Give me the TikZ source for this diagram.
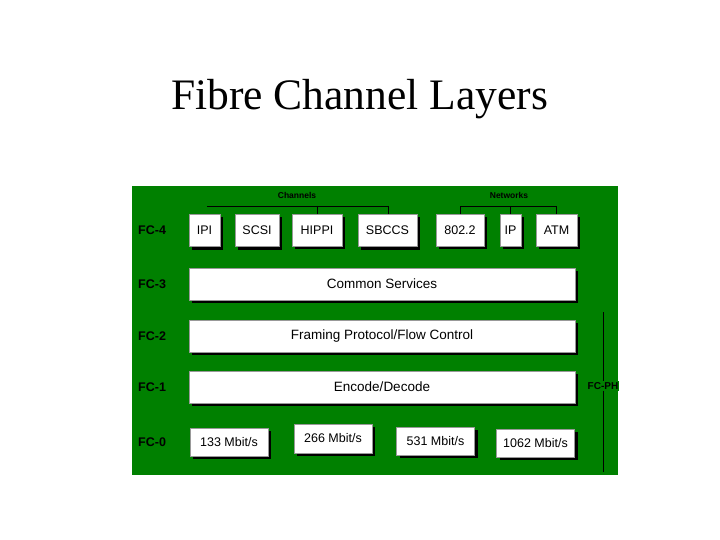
\documentclass[tikz,border=0pt]{standalone}
\usepackage{fontspec}
\setmainfont{Liberation Serif}
\setsansfont{Liberation Sans}
\usetikzlibrary{shadows}
\definecolor{fcgreen}{RGB}{0,128,0}
\tikzset{
  box/.style={draw=black!40, line width=0.3pt, fill=white, inner sep=0pt,
    font=\sffamily\fontsize{12.5}{14}\selectfont,
    drop shadow={opacity=1, fill=black, shadow xshift=3pt, shadow yshift=-3pt}},
  widebox/.style={box, font=\sffamily\fontsize{13.5}{15}\selectfont},
  lvl/.style={anchor=west, inner sep=0pt, font=\sffamily\bfseries\fontsize{12.5}{14}\selectfont},
  grp/.style={inner sep=0pt, font=\sffamily\bfseries\fontsize{8.5}{10}\selectfont},
  tree/.style={draw=black, line width=0.8pt}
}
\begin{document}
\begin{tikzpicture}[x=1pt,y=-1pt]
\useasboundingbox (0,0) rectangle (720,540);
\fill[white] (0,0) rectangle (720,540);
\node[anchor=base, inner sep=0pt, font=\fontsize{43.5}{50}\selectfont] (title) at (359.5,110) {Fibre Channel Layers};
\fill[fcgreen] (132,186) rectangle (618,475);

% level labels
\node[lvl] (l4) at (138,230) {FC-4};
\node[lvl] (l3) at (138,284) {FC-3};
\node[lvl] (l2) at (138,336) {FC-2};
\node[lvl] (l1) at (138,387) {FC-1};
\node[lvl] (l0) at (138,442) {FC-0};

% group labels
\node[grp] (chan) at (297,195) {Channels};
\node[grp] (net) at (509,195) {Networks};

% FC-4 boxes
\node[box, minimum width=31pt, minimum height=32pt] (ipi) at (204.5,230.5) {IPI};
\node[box, minimum width=44pt, minimum height=32pt] (scsi) at (257,230.5) {SCSI};
\node[box, minimum width=50pt, minimum height=32pt] (hippi) at (317,230) {HIPPI};
\node[box, minimum width=59pt, minimum height=32pt] (sbccs) at (387.5,230.5) {SBCCS};
\node[box, minimum width=48pt, minimum height=32pt] (ieee) at (460,230) {802.2};
\node[box, minimum width=21pt, minimum height=32pt] (ip) at (510.5,230) {IP};
\node[box, minimum width=41pt, minimum height=32pt] (atm) at (556.5,230) {ATM};

% grouping lines
\coordinate (cl) at (207,206);
\coordinate (cr) at (388,206);
\draw[tree] (cl) -- (cr);
\draw[tree] (hippi.north |- cl) -- (hippi.north);
\draw[tree] (cr) -- (sbccs.north -| cr);
\coordinate (nl) at (460,206);
\coordinate (nr) at (557,206);
\draw[tree] (ieee.north) -- (ieee.north |- nl) -- (atm.north |- nr) -- (atm.north);
\draw[tree] (ip.north |- nl) -- (ip.north);

% wide boxes
\node[widebox, minimum width=386pt, minimum height=32pt] (common) at (382,284) {Common Services};
\node[widebox, minimum width=386pt, minimum height=32pt] (framing) at (382,336) {Framing Protocol/Flow Control};
\node[widebox, minimum width=386pt, minimum height=32pt] (encode) at (382,387) {Encode/Decode};

% FC-0 boxes
\node[box, minimum width=78pt, minimum height=28pt] (r133) at (229,442) {133 Mbit/s};
\node[box, minimum width=78pt, minimum height=29pt] (r266) at (333,438.5) {266 Mbit/s};
\node[box, minimum width=78pt, minimum height=28pt] (r531) at (435.5,441) {531 Mbit/s};
\node[box, minimum width=78pt, minimum height=28pt] (r1062) at (535.5,443) {1062 Mbit/s};

% FC-PH bracket
\node[grp, fill=fcgreen, inner sep=1pt, font=\sffamily\bfseries\fontsize{10}{12}\selectfont] (fcph) at (603,386) {FC-PH};
\coordinate (pht) at (603,312);
\coordinate (phb) at (603,472);
\draw[tree] (pht) -- (fcph.north);
\draw[tree] (fcph.south) -- (phb);
\end{tikzpicture}
\end{document}
